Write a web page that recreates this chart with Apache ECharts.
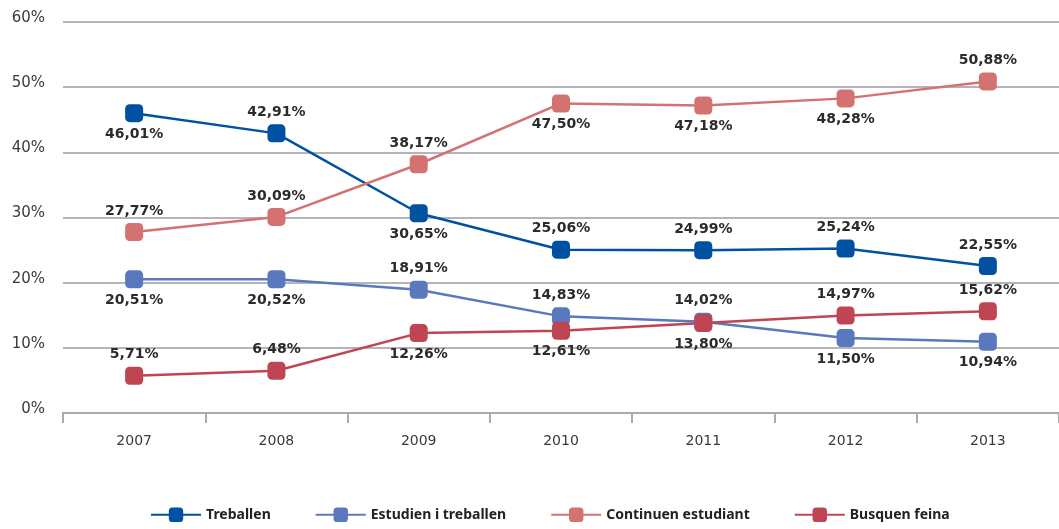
<!DOCTYPE html>
<html>
<head>
<meta charset="utf-8">
<script src="https://cdn.jsdelivr.net/npm/echarts@6/dist/echarts.min.js"></script>
<style>
  html, body { margin: 0; padding: 0; background: #fff; }
  #chart { width: 1059px; height: 529px; }
</style>
</head>
<body>
<div id="chart"></div>
<script>
// dades llegides del gràfic
const years = ['2007', '2008', '2009', '2010', '2011', '2012', '2013']
const treballen = [46.01, 42.91, 30.65, 25.06, 24.99, 25.24, 22.55]
const estudienTreballen = [20.51, 20.52, 18.91, 14.83, 14.02, 11.50, 10.94]
const continuenEstudiant = [27.77, 30.09, 38.17, 47.50, 47.18, 48.28, 50.88]
const busquenFeina = [5.71, 6.48, 12.26, 12.61, 13.80, 14.97, 15.62]

// on va l'etiqueta de cada punt (a = a sobre, b = a sota)
const sides = {
  treballen: ['b', 'a', 'b', 'a', 'a', 'a', 'a'],
  estudien: ['b', 'b', 'a', 'a', 'a', 'b', 'b'],
  continuen: ['a', 'a', 'a', 'b', 'b', 'b', 'a'],
  busquen: ['a', 'a', 'b', 'b', 'b', 'a', 'a']
}

const fmt = v => v.toFixed(2).replace('.', ',') + '%'

const makeSeries = (name, values, color, side) => ({
  name,
  type: 'line',
  symbol: 'roundRect',
  symbolSize: 18,
  color,
  lineStyle: { width: 2.5, color },
  itemStyle: { color },
  data: values.map((v, i) => ({
    value: v,
    label: { position: side[i] === 'a' ? 'top' : 'bottom' }
  })),
  label: {
    show: true,
    distance: 5,
    formatter: p => fmt(p.value),
    fontFamily: 'DejaVu Sans',
    fontWeight: 'bold',
    fontSize: 14,
    color: '#2b2b2b'
  },
  emphasis: { disabled: true },
  animation: false
})

const chart = echarts.init(document.getElementById('chart'))

chart.setOption({
  animation: false,
  grid: { left: 63, top: 22, width: 1008, height: 391, containLabel: false },
  legend: {
    bottom: 2,
    left: 145,
    itemWidth: 50,
    itemHeight: 18,
    itemGap: 44,
    textStyle: { fontFamily: 'Noto Sans', fontWeight: 'bold', fontSize: 14, color: '#222' }
  },
  xAxis: {
    type: 'category',
    data: years,
    boundaryGap: true,
    axisLine: { lineStyle: { color: '#a9a9ae', width: 2 } },
    axisTick: { show: true, length: 10, lineStyle: { color: '#a9a9ae', width: 2 } },
    axisLabel: { margin: 21, fontFamily: 'DejaVu Sans', fontSize: 14, color: '#3a3a3a' }
  },
  yAxis: {
    type: 'value',
    min: 0,
    max: 60,
    interval: 10,
    axisLine: { show: false },
    axisTick: { show: false },
    axisLabel: {
      margin: 18,
      fontFamily: 'DejaVu Sans',
      fontSize: 15,
      color: '#3a3a3a',
      verticalAlign: 'bottom',
      lineHeight: 8,
      formatter: v => v + '%'
    },
    splitLine: { lineStyle: { color: '#b4b4ba', width: 2 } }
  },
  series: [
    makeSeries('Treballen', treballen, '#0051a2', sides.treballen),
    makeSeries('Estudien i treballen', estudienTreballen, '#5a78be', sides.estudien),
    makeSeries('Continuen estudiant', continuenEstudiant, '#d47272', sides.continuen),
    makeSeries('Busquen feina', busquenFeina, '#c04552', sides.busquen)
  ]
})
</script>
</body>
</html>
